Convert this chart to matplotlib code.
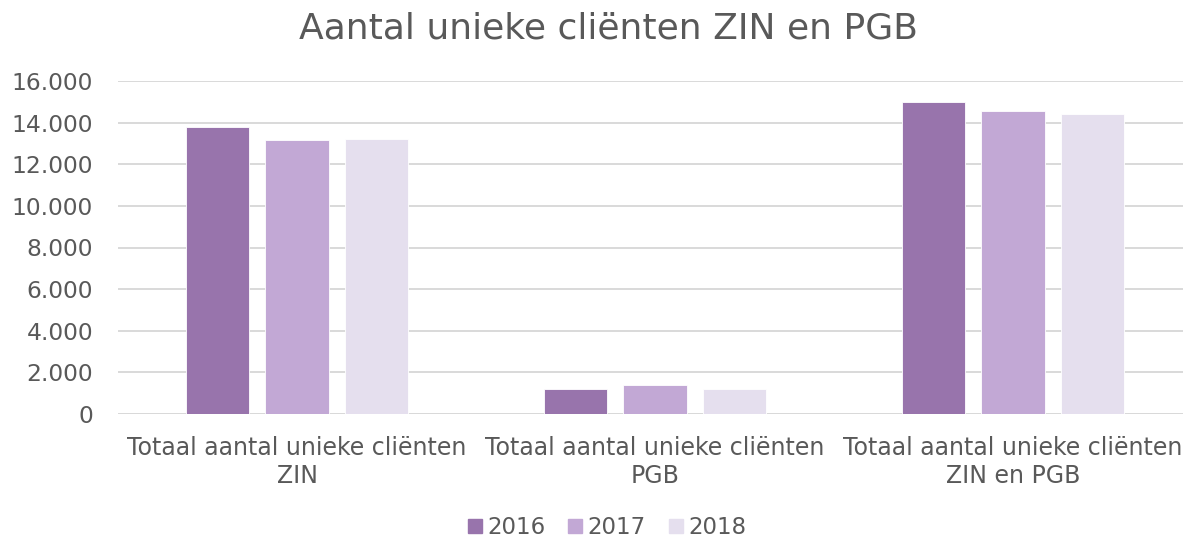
import matplotlib
matplotlib.use("Agg")
import matplotlib.pyplot as plt
import numpy as np
from matplotlib.lines import Line2D

categories = ["Totaal aantal unieke cliënten\nZIN",
              "Totaal aantal unieke cliënten\nPGB",
              "Totaal aantal unieke cliënten\nZIN en PGB"]
years = ["2016", "2017", "2018"]
values_2016 = [13780, 1200, 14990]
values_2017 = [13160, 1395, 14570]
values_2018 = [13210, 1190, 14420]
y_ticks = [0, 2000, 4000, 6000, 8000, 10000, 12000, 14000, 16000]
y_tick_labels = ["0", "2.000", "4.000", "6.000", "8.000", "10.000", "12.000", "14.000", "16.000"]

colors = ["#9874AC", "#C2A8D5", "#E5DFEE"]
text_color = "#595959"
grid_color = "#D9D9D9"

W, H = 1183, 539
fig = plt.figure(figsize=(W / 100, H / 100), dpi=100)
fig.patch.set_facecolor("white")
plt.rcParams['font.family'] = ['DejaVu Sans']

left, right, top, bottom = 118, 1192, 81, 414
ax = fig.add_axes([left / W, (H - bottom) / H, (right - left) / W, (bottom - top) / H])

x = np.arange(len(categories))
offset = 0.2215
width = 0.176
series = [values_2016, values_2017, values_2018]
for i, (vals, c) in enumerate(zip(series, colors)):
    ax.bar(x + (i - 1) * offset, vals, width=width, color=c, zorder=3,
           edgecolor="white", linewidth=0.6)

ax.set_xlim(-0.5, len(categories) - 0.5)
ax.set_ylim(0, 16000)
ax.set_yticks(y_ticks)
ax.set_yticklabels(y_tick_labels)
ax.set_xticks(x)
ax.set_xticklabels(categories, linespacing=1.2)
for s in ax.spines.values():
    s.set_visible(False)
ax.grid(axis="y", color=grid_color, linewidth=1.4, zorder=0)
ax.set_axisbelow(True)
ax.tick_params(axis="y", length=0, pad=18, labelsize=16.8, labelcolor=text_color)
ax.tick_params(axis="x", length=0, pad=16, labelsize=17, labelcolor=text_color)
ax.axhline(0, color=grid_color, linewidth=1.4, zorder=1)

fig.text(608 / W, 1 - 38.5 / H, "Aantal unieke cliënten ZIN en PGB",
         ha="center", va="baseline", fontsize=26, color=text_color)

handles = [Line2D([0], [0], marker="s", linestyle="none", markersize=10.5,
                  markerfacecolor=c, markeredgecolor=c) for c in colors]
fig.legend(handles, years, loc="center", bbox_to_anchor=(606 / W, 1 - 528 / H),
           ncol=3, frameon=False, fontsize=16.5, labelcolor=text_color,
           handletextpad=0.15, columnspacing=0.9, handlelength=0.8,
           borderpad=0, borderaxespad=0)

fig.savefig("out.png", dpi=100, facecolor="white")
